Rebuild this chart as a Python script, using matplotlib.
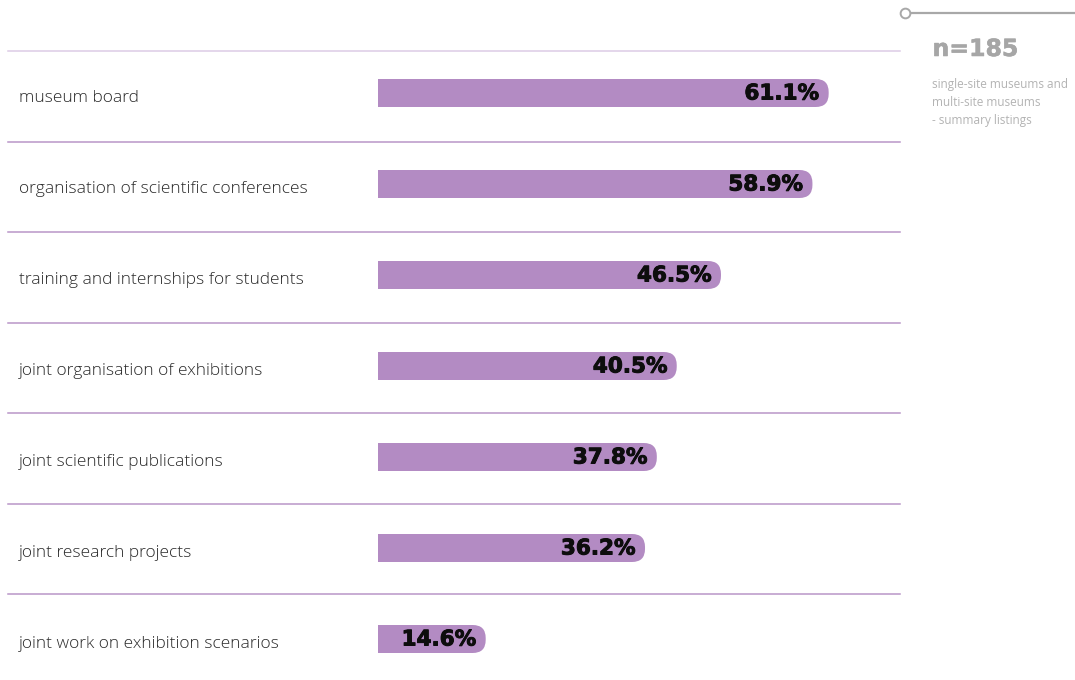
import numpy as np
import matplotlib
matplotlib.use("Agg")
import matplotlib.pyplot as plt
from matplotlib.patches import FancyBboxPatch
import matplotlib.patheffects as pe

categories = [
    "museum board",
    "organisation of scientific conferences",
    "training and internships for students",
    "joint organisation of exhibitions",
    "joint scientific publications",
    "joint research projects",
    "joint work on exhibition scenarios",
]
values = [61.1, 58.9, 46.5, 40.5, 37.8, 36.2, 14.6]
value_labels = ["61.1%", "58.9%", "46.5%", "40.5%", "37.8%", "36.2%", "14.6%"]
n_label = "n=185"
note_lines = ["single-site museums and", "multi-site museums", "- summary listings"]

W, H = 1075, 680
fig = plt.figure(figsize=(W / 100, H / 100), dpi=100)
ax = fig.add_axes([0, 0, 1, 1])
ax.set_axis_off()

kx = 7.376          # px per percent
x0_px = 378         # px of 0%
ky = 91.0           # px per row
row0_px = 93.0
xmin = -x0_px / kx
xmax = xmin + W / kx
ymin = -row0_px / ky
ymax = ymin + H / ky
ax.set_xlim(xmin, xmax)
ax.set_ylim(ymax, ymin)

bar_color = "#b38bc3"
rows = np.arange(len(categories))
bar_h = 28 / ky
r_px = 13
rx = r_px / kx
aspect = kx / ky

# straight part of the bars
ax.barh(rows, np.array(values) - rx * 1.5, height=bar_h, left=0, color=bar_color,
        edgecolor="none")
# rounded caps and value labels
for r, v in zip(rows, values):
    p = FancyBboxPatch((v - 3 * rx, r - bar_h / 2), 3 * rx, bar_h,
                       boxstyle=f"round,pad=0,rounding_size={rx}",
                       mutation_aspect=aspect, facecolor=bar_color,
                       edgecolor="none")
    ax.add_patch(p)
    ax.text(v - 9.5 / kx, r + 0.5 / ky, value_labels[r],
            ha="right", va="center", fontsize=15.5, fontweight="bold",
            family="DejaVu Sans", color="#0d0d0d",
            path_effects=[pe.withStroke(linewidth=0.7, foreground="#0d0d0d")])

# category labels
for r, c in zip(rows, categories):
    ax.text(19 / W, r + 5 / ky, c, transform=ax.get_yaxis_transform(),
            ha="left", va="center", fontsize=12.5, fontweight="light",
            family="Open Sans", color="#2a2a2a")

# separator lines
line_off = 42 / ky
for i, r in enumerate(rows):
    ax.axhline(r - line_off - (i * 0.5 / ky), xmin=8 / W, xmax=900 / W,
               color="#dccbe5" if i == 0 else "#b996c8", lw=1.1)

# right panel
ax.plot([910 / W, 1.0], [1 - 13 / H, 1 - 13 / H], color="#a8a8a8", lw=1.6,
        transform=ax.transAxes, clip_on=False, solid_capstyle="butt")
ax.plot([905 / W], [1 - 13 / H], marker="o", ms=7, mfc="white", mec="#a8a8a8",
        mew=1.4, transform=ax.transAxes, clip_on=False)
fig.text(932.5 / W, 1 - 56 / H, n_label, ha="left", va="baseline", fontsize=17,
         fontweight="bold", family="DejaVu Sans", color="#a6a6a6",
         path_effects=[pe.withStroke(linewidth=0.4, foreground="#a6a6a6")])
for i, t in enumerate(note_lines):
    fig.text(932 / W, 1 - (88 + 18 * i) / H, t, ha="left", va="baseline",
             fontsize=8.5, family="Open Sans", color="#b3b3b3")

fig.savefig("out.png", dpi=100)
